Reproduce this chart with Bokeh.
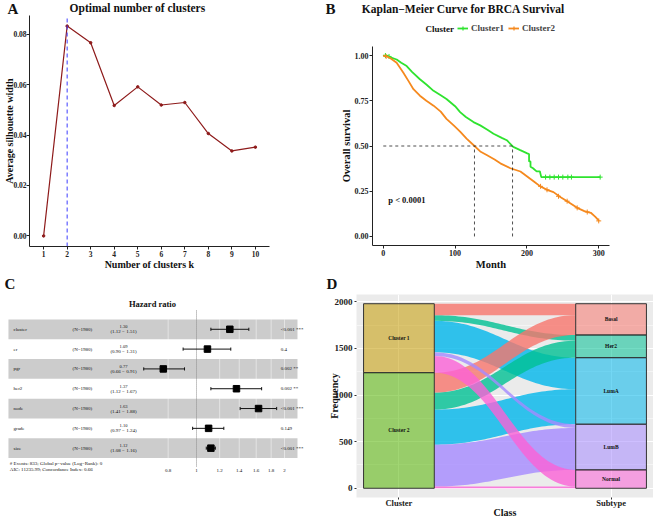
import numpy as np
from bokeh.plotting import figure
from bokeh.layouts import column, row
from bokeh.models import (Range1d, FixedTicker, Label, Legend, LegendItem,
                          NumeralTickFormatter)
from bokeh.embed import file_html
from bokeh.resources import INLINE
from bokeh.core.properties import value

SERIF = "Liberation Serif"

# ---------------- Panel A data: silhouette ----------------
k_values = [1, 2, 3, 4, 5, 6, 7, 8, 9, 10]
silhouette = [0.0, 0.0832, 0.0766, 0.0517, 0.0591, 0.0519, 0.0529, 0.0406, 0.0337, 0.0352]
optimal_k = 2
a_yticks = [0.0, 0.02, 0.04, 0.06, 0.08]

# ---------------- Panel B data: Kaplan-Meier ----------------
km1_time = [0, 5, 10, 18.6, 25, 32.6, 40, 51, 60, 70, 80, 88, 100, 107, 115, 125.6, 135, 145,
            153.5, 165, 172, 181, 190.7, 200.5, 203, 203, 205, 205, 208.5, 213.5, 218, 220, 302]
km1_surv = [1.0, 1.0, 0.99, 0.978, 0.96, 0.942, 0.91, 0.869, 0.84, 0.805, 0.78, 0.76, 0.72, 0.687,
            0.66, 0.632, 0.614, 0.59, 0.568, 0.545, 0.532, 0.495, 0.477, 0.459, 0.455, 0.415, 0.415,
            0.385, 0.377, 0.36, 0.36, 0.328, 0.328]
km2_time = [0, 5, 10, 18.6, 28, 35, 42, 51, 60, 70, 80, 88, 98, 107, 116, 127, 135, 144, 155, 163,
            177, 191, 209.7, 218.6, 228, 237, 247, 256, 270, 280, 289, 295, 300.5]
km2_surv = [1.0, 0.995, 0.985, 0.96, 0.905, 0.86, 0.814, 0.778, 0.75, 0.723, 0.69, 0.65, 0.614,
            0.58, 0.541, 0.5, 0.47, 0.45, 0.425, 0.404, 0.377, 0.359, 0.304, 0.277, 0.258, 0.245,
            0.217, 0.195, 0.158, 0.14, 0.131, 0.11, 0.086]
cens1_time = [3, 8, 226, 232, 238, 244, 250, 257, 262, 302]
cens1_surv = [1.0, 0.995, 0.328, 0.328, 0.328, 0.328, 0.328, 0.328, 0.328, 0.328]
cens2_time = [4, 219, 228, 244, 256, 270, 284, 300]
cens2_surv = [0.995, 0.277, 0.258, 0.222, 0.195, 0.158, 0.135, 0.086]
median1 = 180
median2 = 127
b_xticks = [0, 100, 200, 300]
b_yticks = [0.0, 0.25, 0.5, 0.75, 1.0]

# ---------------- Panel C data: Cox forest ----------------
cox_vars = ["cluster", "er", "pgr", "her2", "node", "grade", "size"]
cox_n = [1980, 1980, 1980, 1980, 1980, 1980, 1980]
hr = [1.30, 1.09, 0.77, 1.37, 1.63, 1.10, 1.12]
hr_lo = [1.12, 0.90, 0.66, 1.12, 1.41, 0.97, 1.08]
hr_hi = [1.51, 1.31, 0.91, 1.67, 1.88, 1.24, 1.16]
p_labels = ["<0.001 ***", "0.4", "0.002 **", "0.002 **", "<0.001 ***", "0.149", "<0.001 ***"]
hr_ticks = [0.8, 1, 1.2, 1.4, 1.6, 1.8, 2]
n_events = 833
global_p = 0
aic = 11235.99
c_index = 0.66

# ---------------- Panel D data: alluvial ----------------
clusters = ["Cluster 1", "Cluster 2"]
subtypes = ["Basal", "Her2", "LumA", "LumB", "Normal"]
cluster1_counts = [123, 60, 338, 40, 179]
cluster2_counts = [213, 183, 376, 450, 18]
freq_ticks = [0, 500, 1000, 1500, 2000]
freq_minor = [250, 750, 1250, 1750]

GREEN = "#2FE32F"
ORANGE = "#F5891E"
fill_colors = {"Basal": "#F8766D", "Cluster 1": "#C49A00", "Cluster 2": "#53B400",
               "Her2": "#00C094", "LumA": "#00B6EB", "LumB": "#A58AFF", "Normal": "#FB61D7"}

txt = dict(text_font=value(SERIF), text_baseline="middle", text_color="#111111")


def style_axes(p, tick_size, label_size):
    for ax in p.axis:
        ax.axis_line_color = "#222222"
        ax.axis_line_width = 1
        ax.major_tick_line_color = "#222222"
        ax.major_tick_in = 0
        ax.major_tick_out = 3
        ax.minor_tick_line_color = None
        ax.major_label_text_font = SERIF
        ax.major_label_text_font_style = "bold"
        ax.major_label_text_font_size = f"{tick_size}px"
        ax.major_label_text_color = "#222222"
        ax.major_label_standoff = 1
        ax.axis_label_text_font = SERIF
        ax.axis_label_text_font_style = "bold"
        ax.axis_label_text_font_size = f"{label_size}px"
        ax.axis_label_text_color = "#111111"
        ax.axis_label_standoff = 0


def make_header(w, h):
    """A thin text strip (no axes) whose ranges are in pixels, y pointing down."""
    hp = figure(width=w, height=h, output_backend="svg", toolbar_location=None,
                x_range=Range1d(0, w), y_range=Range1d(h, 0), x_axis_location=None,
                y_axis_location=None, min_border=0, frame_align=False)
    hp.outline_line_color = None
    hp.grid.visible = False
    return hp


def header_text(hp, x, y, text, size, align="left"):
    hp.text(x=[x], y=[y], text=[text], text_align=align, text_font_size=f"{size}px",
            text_font_style="bold", **txt)


# ======================= Panel A =======================
WA = 325
HAH = 15
hA = make_header(WA, HAH)
header_text(hA, 7, 8, "A", 15)
header_text(hA, 137, 7.5, "Optimal number of clusters", 11.5, align="center")

HA = 272 - HAH
pA = figure(width=WA, height=HA, output_backend="svg", toolbar_location=None,
            x_range=Range1d(0.4, 10.6), y_range=Range1d(-0.0042, 0.0874),
            min_border_left=29, min_border_right=WA - 269, min_border_top=0,
            min_border_bottom=24, frame_align=False,
            x_axis_label="Number of clusters k", y_axis_label="Average silhouette width")
pA.grid.visible = False
pA.outline_line_color = None
pA.line(k_values, silhouette, line_color="#8E1B1B", line_width=1.2)
pA.scatter(k_values, silhouette, size=2.5, color="#8E1B1B")
pA.line([optimal_k, optimal_k], [-0.0042, 0.0874], line_color="#3C3CFF", line_dash="4 3",
        line_width=1)
style_axes(pA, 7.5, 10)
pA.yaxis.major_label_standoff = 0
pA.yaxis.axis_label_standoff = -5
pA.xaxis.axis_label_standoff = -1
pA.xaxis.ticker = FixedTicker(ticks=k_values)
pA.yaxis.ticker = FixedTicker(ticks=a_yticks)
pA.yaxis.formatter = NumeralTickFormatter(format="0.00")

# ======================= Panel B =======================
WB = 328
HBH = 46
hB = make_header(WB, HBH)
header_text(hB, 0, 8, "B", 15)
header_text(hB, 138, 8, "Kaplan\u2212Meier Curve for BRCA Survival", 11.5, align="center")
header_text(hB, 100, 28, "Cluster", 9)
# legend proxies (NaN data: not drawn, only used for legend glyphs)
g_l = hB.line([np.nan], [np.nan], line_color=GREEN, line_width=1.8)
g_c = hB.scatter([np.nan], [np.nan], marker="cross", size=6, line_color=GREEN, line_width=1.2)
o_l = hB.line([np.nan], [np.nan], line_color=ORANGE, line_width=1.8)
o_c = hB.scatter([np.nan], [np.nan], marker="cross", size=6, line_color=ORANGE, line_width=1.2)
leg = Legend(items=[LegendItem(label="Cluster1", renderers=[g_l, g_c]),
                    LegendItem(label="Cluster2", renderers=[o_l, o_c])],
             orientation="horizontal", location=(132, HBH - 33), padding=0, margin=0,
             spacing=4, glyph_width=11, glyph_height=10, label_standoff=3, label_height=10,
             border_line_color=None, background_fill_alpha=0,
             label_text_font=SERIF, label_text_font_style="bold", label_text_font_size="9px")
hB.add_layout(leg)

HB = 272 - HBH
pB = figure(width=WB, height=HB, output_backend="svg", toolbar_location=None,
            x_range=Range1d(-15, 315), y_range=Range1d(-0.05, 1.05),
            min_border_left=47, min_border_right=44, min_border_top=0,
            min_border_bottom=24, frame_align=False,
            x_axis_label="Month", y_axis_label="Overall survival")
pB.grid.visible = False
pB.outline_line_color = None
pB.line(km1_time, km1_surv, line_color=GREEN, line_width=1.8)
pB.scatter(cens1_time, cens1_surv, marker="cross", size=5, line_color=GREEN, line_width=1)
pB.line(km2_time, km2_surv, line_color=ORANGE, line_width=1.8)
pB.scatter(cens2_time, cens2_surv, marker="cross", size=5, line_color=ORANGE, line_width=1)
pB.line([0, median1], [0.5, 0.5], line_color="#222222", line_dash="3 3", line_width=0.8)
pB.line([median1, median1], [0, 0.5], line_color="#222222", line_dash="3 3", line_width=0.8)
pB.line([median2, median2], [0, 0.5], line_color="#222222", line_dash="3 3", line_width=0.8)
style_axes(pB, 8, 10.5)
pB.xaxis.ticker = FixedTicker(ticks=b_xticks)
pB.yaxis.ticker = FixedTicker(ticks=b_yticks)
pB.yaxis.formatter = NumeralTickFormatter(format="0.00")
pB.add_layout(Label(x=7, y=0.2, text="p < 0.0001", text_font=SERIF, text_font_size="8.5px",
                    text_font_style="bold", text_baseline="middle", text_color="#111111"))

# ======================= Panel C =======================
WC, HC = 325, 248
pC = figure(width=WC, height=HC, output_backend="svg", toolbar_location=None,
            x_axis_type="log", x_range=Range1d(0.2137, 2.7614), y_range=Range1d(9.652, -2.867),
            x_axis_location=None, y_axis_location=None, min_border=0, frame_align=False)
pC.outline_line_color = None
pC.grid.visible = False
rows_idx = list(range(len(cox_vars)))
band_rows = [i for i in rows_idx if i % 2 == 0]
band_left, band_right = 0.2275, 2.215
pC.quad(left=band_left, right=band_right, top=[i - 0.5 for i in band_rows],
        bottom=[i + 0.5 for i in band_rows], fill_color="#CCCCCC", line_color=None)
grid_ticks = [t for t in hr_ticks if t != 1]
pC.segment(x0=grid_ticks, x1=grid_ticks, y0=-0.5, y1=6.5, line_color="white", line_alpha=0.6,
           line_width=0.8)
pC.segment(x0=[1], x1=[1], y0=-0.95, y1=6.95, line_color="#8A8A8A", line_dash="1 1",
           line_width=1)
pC.segment(x0=hr_lo, x1=hr_hi, y0=rows_idx, y1=rows_idx, line_color="#111111", line_width=1)
pC.segment(x0=hr_lo, x1=hr_lo, y0=[i - 0.08 for i in rows_idx], y1=[i + 0.08 for i in rows_idx],
           line_color="#111111", line_width=1)
pC.segment(x0=hr_hi, x1=hr_hi, y0=[i - 0.08 for i in rows_idx], y1=[i + 0.08 for i in rows_idx],
           line_color="#111111", line_width=1)
pC.scatter(hr, rows_idx, marker="square", size=6.5, color="#000000")

pC.text(x=[0.707], y=[-1.3], text=["Hazard ratio"], text_align="center",
        text_font_size="8.5px", text_font_style="bold", **txt)
pC.text(x=0.2367, y=rows_idx, text=cox_vars, text_align="left", text_font_size="5px", **txt)
pC.text(x=0.3767, y=rows_idx, text=[f"(N={n})" for n in cox_n], text_align="left",
        text_font_size="5px", **txt)
pC.text(x=0.5628, y=[i - 0.12 for i in rows_idx], text=[f"{h:.2f}" for h in hr],
        text_align="center", text_font_size="4.5px", **txt)
pC.text(x=0.5628, y=[i + 0.13 for i in rows_idx],
        text=[f"({lo:.2f} \u2212 {hi:.2f})" for lo, hi in zip(hr_lo, hr_hi)],
        text_align="center", text_font_size="5px", **txt)
pC.text(x=1.94, y=rows_idx, text=p_labels, text_align="left", text_font_size="5px", **txt)
pC.text(x=[0.2300, 0.2300], y=[6.78, 7.08],
        text=[f"# Events: {n_events}; Global p\u2212value (Log\u2212Rank): {global_p}",
              f"AIC: {aic:.2f}; Concordance Index: {c_index:.2f}"],
        text_align="left", text_font_size="5px", **txt)
pC.text(x=hr_ticks, y=7.13, text=[f"{t:g}" for t in hr_ticks], text_align="center",
        text_font_size="5px", **txt)
pC.add_layout(Label(x=4, y=HC - 11, x_units="screen", y_units="screen", text="C",
                    text_font=SERIF, text_font_size="15px", text_font_style="bold",
                    text_baseline="middle", text_color="#111111"))

# ======================= Panel D =======================
WD = 328
HDH = 22
hD = make_header(WD, HDH)
header_text(hD, 1, 11, "D", 15)

HD = 248 - HDH
pD = figure(width=WD, height=HD, output_backend="svg", toolbar_location=None,
            x_range=Range1d(0.8, 2.2), y_range=Range1d(-99, 2079),
            min_border_left=31, min_border_right=0, min_border_top=0,
            min_border_bottom=20, background_fill_color="#EBEBEB", frame_align=False,
            x_axis_label="Class", y_axis_label="Frequency")
pD.outline_line_color = None
style_axes(pD, 9, 10)
for ax in pD.axis:
    ax.axis_line_color = None
    ax.major_tick_line_color = "#333333"
    ax.major_tick_out = 2
    ax.major_label_standoff = 0
pD.yaxis.axis_label_standoff = -8
pD.xaxis.major_label_standoff = -2
pD.xaxis.axis_label_standoff = -4
pD.xaxis.major_label_text_font_size = "8.5px"
pD.xaxis.ticker = FixedTicker(ticks=[1, 2])
pD.xaxis.major_label_overrides = {1: "Cluster", 2: "Subtype"}
pD.yaxis.ticker = FixedTicker(ticks=freq_ticks, minor_ticks=freq_minor)
pD.xgrid.ticker = FixedTicker(ticks=[1, 2])
pD.ygrid.ticker = FixedTicker(ticks=freq_ticks, minor_ticks=freq_minor)
pD.grid.grid_line_color = "white"
pD.grid.grid_line_width = 1
pD.ygrid.minor_grid_line_color = "white"
pD.ygrid.minor_grid_line_width = 0.5

counts = np.array([cluster1_counts, cluster2_counts], dtype=float)
total = counts.sum()
cl_tot = counts.sum(axis=1)
st_tot = counts.sum(axis=0)
cl_top = total - np.concatenate([[0], np.cumsum(cl_tot)[:-1]])
st_top = total - np.concatenate([[0], np.cumsum(st_tot)[:-1]])
half = 1 / 6
x0, x1 = 1 + half, 2 - half


def bez(ya, yb, n=48, k=0.42):
    t = np.linspace(0, 1, n)
    L = x1 - x0
    px = [x0, x0 + k * L, x1 - k * L, x1]
    py = [ya, ya, yb, yb]
    bx = ((1 - t) ** 3) * px[0] + 3 * ((1 - t) ** 2) * t * px[1] + 3 * (1 - t) * t ** 2 * px[2] + t ** 3 * px[3]
    by = ((1 - t) ** 3) * py[0] + 3 * ((1 - t) ** 2) * t * py[1] + 3 * (1 - t) * t ** 2 * py[2] + t ** 3 * py[3]
    return bx, by


draw_order = ["LumA", "Her2", "Basal", "LumB", "Normal"]
fxs, fys, fcs = [], [], []
for sname in draw_order:
    j = subtypes.index(sname)
    for i in range(len(clusters)):
        lt = cl_top[i] - counts[i, :j].sum()
        lb = lt - counts[i, j]
        rt = st_top[j] - counts[:i, j].sum()
        rb = rt - counts[i, j]
        tx, ty = bez(lt, rt)
        bx_, by_ = bez(lb, rb)
        fxs.append(list(tx) + list(bx_[::-1]))
        fys.append(list(ty) + list(by_[::-1]))
        fcs.append(fill_colors[sname])
pD.patches(fxs, fys, fill_color=fcs, fill_alpha=0.8, line_color=None)

pD.quad(left=1 - half, right=1 + half, top=cl_top, bottom=cl_top - cl_tot,
        fill_color=[fill_colors[c] for c in clusters], fill_alpha=0.55,
        line_color="#333333", line_width=1)
pD.quad(left=2 - half, right=2 + half, top=st_top, bottom=st_top - st_tot,
        fill_color=[fill_colors[s] for s in subtypes], fill_alpha=0.55,
        line_color="#333333", line_width=1)
pD.text(x=[1] * len(clusters), y=cl_top - cl_tot / 2, text=clusters, text_align="center",
        text_font_size="5.5px", text_font_style="bold", **txt)
pD.text(x=[2] * len(subtypes), y=st_top - st_tot / 2, text=subtypes, text_align="center",
        text_font_size="5.5px", text_font_style="bold", **txt)

layout = column(row(column(hA, pA), column(hB, pB)), row(pC, column(hD, pD)))
open("out.html", "w").write(file_html(layout, INLINE))
